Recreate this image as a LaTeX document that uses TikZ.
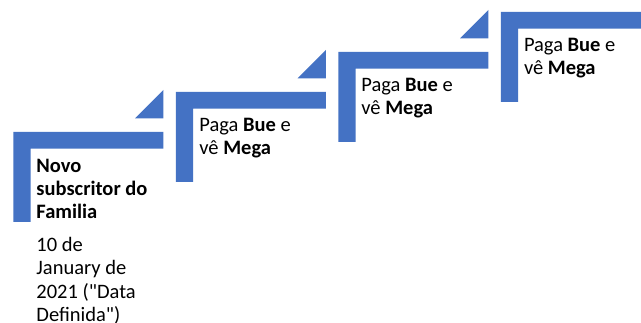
\documentclass[tikz,border=0pt]{standalone}
\usepackage{fontspec}
\setmainfont{Carlito}
\definecolor{stepblue}{HTML}{4472C4}
\newcommand{\steplines}[1]{\begin{tabular}[t]{@{}l@{}}#1\end{tabular}}
\begin{document}
\begin{tikzpicture}[x=1pt,y=-1pt,
  stepfill/.style={fill=stepblue,draw=none},
  steptext/.style={anchor=base west,inner sep=0pt,
    font=\fontsize{20.5}{23.2}\selectfont}]
\useasboundingbox (0,0) rectangle (641,323);
\fill[white] (0,0) rectangle (641,323);
% L-shaped steps
\foreach \i/\x/\y/\w in {1/13.3/132/150, 2/175.8/92/150, 3/338.3/52/150, 4/500.8/12/141}{
  \path[stepfill] (\x,\y) -- ++(\w,0) -- ++(0,16.6) -- (\x+17.2,\y+16.6)
     -- (\x+17.2,\y+90) -- (\x,\y+90) -- cycle;
}
% connecting triangles
\foreach \x/\y in {163.3/132, 325.8/92, 488.3/52}{
  \path[stepfill] (\x,\y-42) -- (\x,\y-13.7) -- (\x-28.3,\y-13.7) -- cycle;
}
\node[steptext] (s1) at (36.2,172.3) {\steplines{\textbf{Novo}\\\textbf{subscritor do}\\\textbf{Familia}}};
\node[steptext] (d1) at (36.2,251.7) {\steplines{10 de\\January de\\2021 (\textquotedbl Data\\Definida\textquotedbl)}};
\node[steptext] (s2) at (199.2,131.7) {\steplines{Paga \textbf{Bue} e\\vê \textbf{Mega}}};
\node[steptext] (s3) at (361.2,91.2) {\steplines{Paga \textbf{Bue} e\\vê \textbf{Mega}}};
\node[steptext] (s4) at (523.8,51.7) {\steplines{Paga \textbf{Bue} e\\vê \textbf{Mega}}};
\end{tikzpicture}
\end{document}
